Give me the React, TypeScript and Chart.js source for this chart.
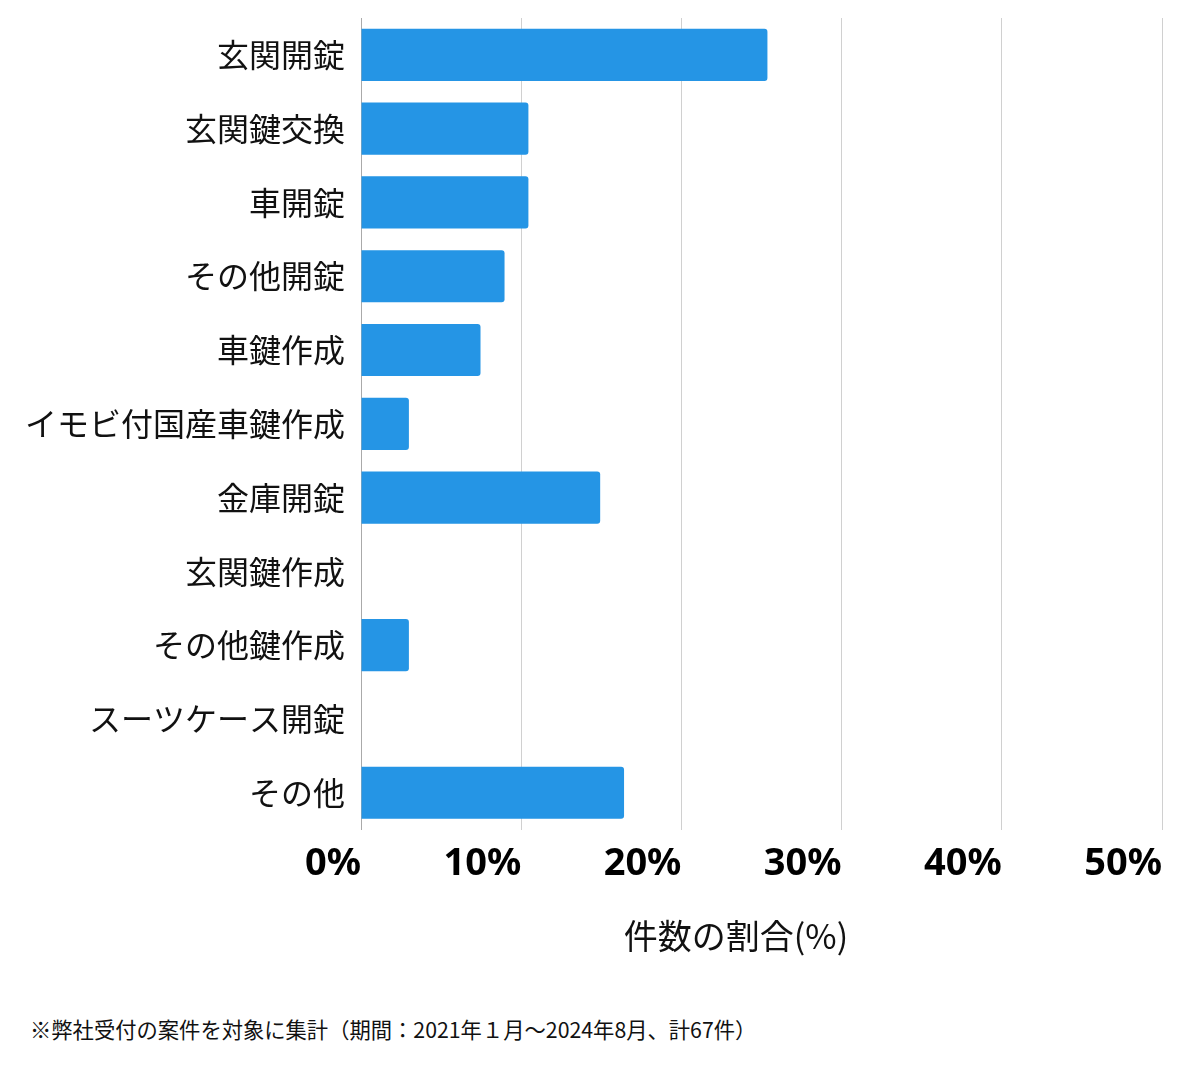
import React, { useEffect, useRef } from "react";
import { Chart, registerables } from "chart.js";

Chart.register(...registerables);

const categories: string[] = [
  "玄関開錠",
  "玄関鍵交換",
  "車開錠",
  "その他開錠",
  "車鍵作成",
  "イモビ付国産車鍵作成",
  "金庫開錠",
  "玄関鍵作成",
  "その他鍵作成",
  "スーツケース開錠",
  "その他",
];

const shares: number[] = [25.37, 10.45, 10.45, 8.96, 7.46, 2.99, 14.93, 0, 2.99, 0, 16.42];

const xTicks: number[] = [0, 10, 20, 30, 40, 50];

const axisTitle = "件数の割合(%)";
const footnote = "※弊社受付の案件を対象に集計（期間：2021年１月～2024年8月、計67件）";

export default function App() {
  const canvasRef = useRef<HTMLCanvasElement | null>(null);

  useEffect(() => {
    if (!canvasRef.current) return;
    const chart = new Chart(canvasRef.current, {
      type: "bar",
      data: {
        labels: categories,
        datasets: [
          {
            data: shares,
            backgroundColor: "#2595E5",
            borderRadius: 3,
            borderSkipped: "start",
            categoryPercentage: 1,
            barPercentage: 0.707,
          },
        ],
      },
      options: {
        indexAxis: "y",
        animation: false,
        responsive: true,
        maintainAspectRatio: false,
        layout: { padding: { top: 10, right: 30, bottom: 12, left: 0 } },
        plugins: { legend: { display: false }, tooltip: { enabled: false } },
        scales: {
          x: {
            min: 0,
            max: xTicks[xTicks.length - 1],
            afterBuildTicks: (scale: any) => {
              scale.ticks = xTicks.map((v) => ({ value: v }));
            },
            afterFit: (scale: any) => {
              scale.paddingLeft = 0;
              scale.paddingRight = 0;
            },
            grid: { color: "#d0d0d0", drawTicks: false, lineWidth: 1 },
            border: { display: false },
            ticks: {
              align: "end",
              padding: 12,
              maxRotation: 0,
              autoSkip: false,
              color: "#000",
              font: { family: "'Noto Sans', sans-serif", size: 38, weight: "bold" },
              callback: (v: any) => v + "%",
            },
            title: {
              display: true,
              text: axisTitle + "\u3000\u2002",
              color: "#111",
              font: { family: "'Noto Sans CJK JP', sans-serif", size: 34 },
              padding: { top: 16, bottom: 0 },
            },
          },
          y: {
            afterFit: (scale: any) => {
              scale.width = 353;
              scale.paddingTop = 0;
              scale.paddingBottom = 0;
            },
            grid: { display: false, drawTicks: false },
            border: { display: true, color: "#aaaaaa", width: 1 },
            ticks: {
              padding: 16,
              color: "#111",
              autoSkip: false,
              font: { family: "'Noto Sans CJK JP', sans-serif", size: 32 },
            },
          },
        },
      },
    });
    return () => chart.destroy();
  }, []);

  return (
    <div style={{ width: "100%" }}>
      <div style={{ position: "relative", width: "100%", height: 960 }}>
        <canvas ref={canvasRef} />
      </div>
      <div
        style={{
          marginTop: 46,
          paddingLeft: 22,
          fontFamily: "'Noto Sans CJK JP', sans-serif",
          fontSize: 21.3,
          color: "#111",
          lineHeight: "29px",
        }}
      >
        {footnote}
      </div>
    </div>
  );
}
